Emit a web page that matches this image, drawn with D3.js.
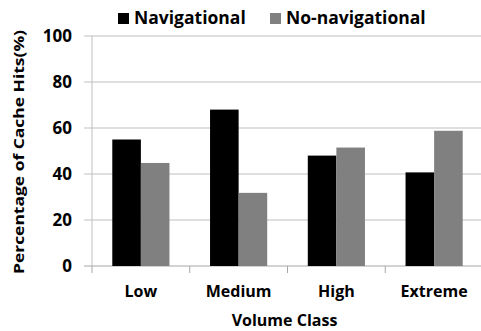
<!DOCTYPE html>
<html>
<head>
<meta charset="utf-8">
<script src="https://cdn.jsdelivr.net/npm/d3@7"></script>
<style>
  html, body { margin: 0; padding: 0; background: #fff; }
  #chart { width: 481px; height: 331px; }
  text { font-family: "Open Sans", Lato, sans-serif; font-weight: 700; fill: #000; }
</style>
</head>
<body>
<div id="chart"></div>
<script>
const categories = ['Low', 'Medium', 'High', 'Extreme'];
const seriesNames = ['Navigational', 'No-navigational'];
const navigational = [55, 68, 48, 40.7];
const noNavigational = [44.8, 31.8, 51.5, 58.8];
const yTicks = [0, 20, 40, 60, 80, 100];
const colors = ['#000000', '#808080'];

(function () {
  const width = 481, height = 331;
  const margin = { top: 36, right: -2, bottom: 65, left: 92 };
  const innerWidth = width - margin.left - margin.right;
  const innerHeight = height - margin.top - margin.bottom;

  const svg = d3.select('#chart').append('svg')
    .attr('width', width).attr('height', height);
  const g = svg.append('g').attr('transform', `translate(${margin.left},${margin.top})`);

  const x = d3.scaleBand().domain(categories).range([0, innerWidth]);
  const xs = d3.scaleBand().domain(seriesNames).range([0, x.bandwidth()]).paddingOuter(0.71);
  const y = d3.scaleLinear().domain([0, 100]).range([innerHeight, 0]);

  // gridlines with short ticks to the left of the axis
  g.append('g').selectAll('line').data(yTicks).join('line')
    .attr('x1', -8).attr('x2', innerWidth)
    .attr('y1', d => y(d)).attr('y2', d => y(d))
    .attr('stroke', d => d === 0 ? '#a6a6a6' : '#bfbfbf')
    .attr('stroke-width', 1);

  // y axis line
  g.append('line').attr('x1', 0).attr('x2', 0).attr('y1', 0).attr('y2', innerHeight)
    .attr('stroke', '#bfbfbf');

  // x tick marks at band edges
  const edges = categories.map(c => x(c)).concat([innerWidth]);
  g.append('g').selectAll('line').data(edges).join('line')
    .attr('x1', d => d).attr('x2', d => d)
    .attr('y1', innerHeight).attr('y2', innerHeight + 7)
    .attr('stroke', '#a6a6a6');

  const data = categories.map((c, i) => ({ c, vals: [navigational[i], noNavigational[i]] }));
  g.append('g').selectAll('g').data(data).join('g')
    .attr('transform', d => `translate(${x(d.c)},0)`)
    .selectAll('rect').data(d => d.vals.map((v, j) => ({ v, s: seriesNames[j], j })))
    .join('rect')
    .attr('x', d => xs(d.s))
    .attr('width', xs.bandwidth())
    .attr('y', d => y(d.v))
    .attr('height', d => innerHeight - y(d.v))
    .attr('fill', d => colors[d.j]);

  // y tick labels
  g.append('g').selectAll('text').data(yTicks).join('text')
    .attr('x', -20).attr('y', d => y(d)).attr('dy', '0.35em')
    .attr('text-anchor', 'end').attr('font-size', 17)
    .text(d => d);

  // x labels
  g.append('g').selectAll('text').data(categories).join('text')
    .attr('x', d => x(d) + x.bandwidth() / 2).attr('y', innerHeight + 31)
    .attr('text-anchor', 'middle').attr('font-size', 16)
    .text(d => d);

  svg.append('text')
    .attr('x', margin.left + innerWidth / 2 - 3).attr('y', 326)
    .attr('text-anchor', 'middle').attr('font-size', 16)
    .text('Volume Class');

  svg.append('text')
    .attr('transform', `translate(24,152) rotate(-90)`)
    .attr('text-anchor', 'middle').attr('font-size', 14.5)
    .attr('textLength', 244).attr('lengthAdjust', 'spacingAndGlyphs')
    .text('Percentage of Cache Hits(%)');

  // legend
  const legendX = [118, 270];
  const legend = svg.append('g').selectAll('g').data(seriesNames).join('g')
    .attr('transform', (d, i) => `translate(${legendX[i]},0)`);
  legend.append('rect').attr('x', 0).attr('y', 13).attr('width', 11).attr('height', 11)
    .attr('fill', (d, i) => colors[i]);
  legend.append('text').attr('x', 16).attr('y', 24).attr('font-size', 17.5)
    .text(d => d);
})();
</script>
</body>
</html>
